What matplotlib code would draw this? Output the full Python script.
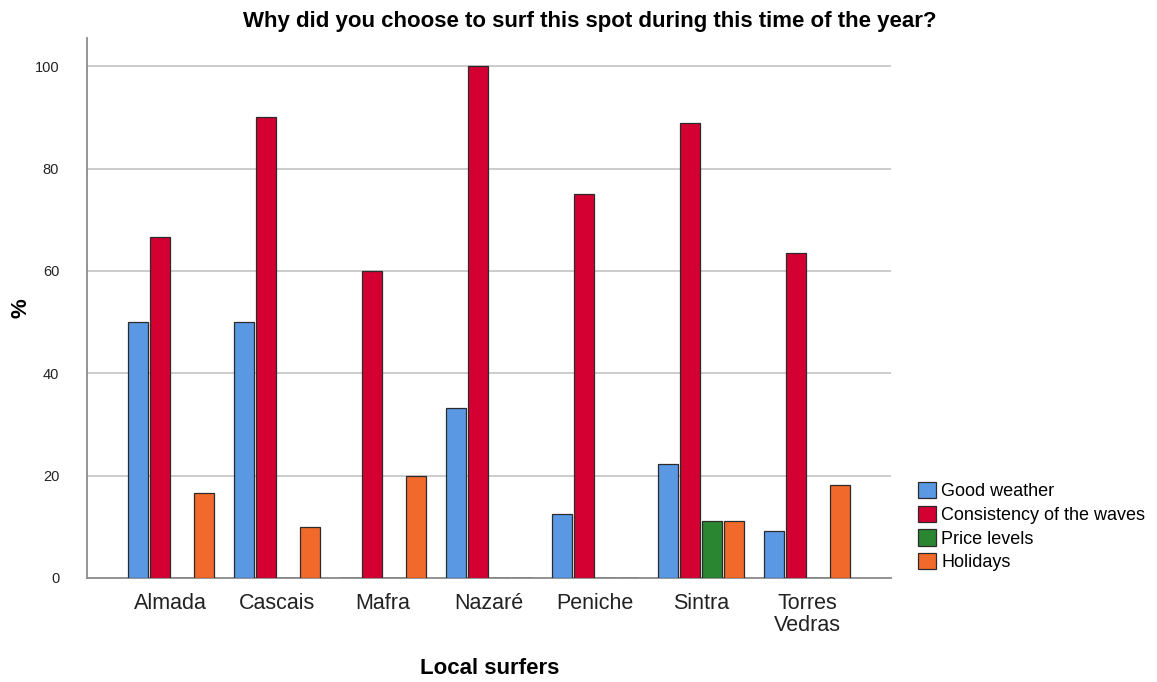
import matplotlib
matplotlib.use("Agg")
import matplotlib.pyplot as plt
import numpy as np
from matplotlib.patches import Patch

plt.rcParams['font.family'] = ['Liberation Sans', 'DejaVu Sans']

places = ["Almada", "Cascais", "Mafra", "Nazaré", "Peniche", "Sintra", "Torres\nVedras"]
series_names = ["Good weather", "Consistency of the waves", "Price levels", "Holidays"]
good_weather = [50.0, 50.0, 0.0, 33.3, 12.5, 22.2, 9.1]
consistency = [66.7, 90.0, 60.0, 100.0, 75.0, 88.9, 63.6]
price_levels = [0.0, 0.0, 0.0, 0.0, 0.0, 11.1, 0.0]
holidays = [16.7, 10.0, 20.0, 0.0, 0.0, 11.1, 18.2]
y_ticks = [0, 20, 40, 60, 80, 100]

colors = ["#5a98e4", "#d50032", "#2a8630", "#f26a2b"]
series = [good_weather, consistency, price_levels, holidays]

fig = plt.figure(figsize=(11.57, 6.82), dpi=100)
ax = fig.add_axes([0.0752, 0.1525, 0.6948, 0.7915])

x = np.arange(len(places))
step = 0.207
width = 0.19
offsets = (np.arange(4) - 1.5) * step
for vals, off, col in zip(series, offsets, colors):
    ax.bar(x + off, vals, width=width, color=col, edgecolor="#2b2b2b",
           linewidth=0.9, zorder=3)

ax.set_xlim(-0.79, len(places) - 1 + 0.79)
ax.set_ylim(0, 105.5)
ax.set_yticks(y_ticks)
ax.set_yticklabels([str(t) for t in y_ticks], fontsize=10.5, color="#222222")
ax.set_xticks(x)
ax.set_xticklabels(places, fontsize=15.5, color="#222222", linespacing=1.05)
ax.tick_params(axis="both", length=0)
ax.tick_params(axis="x", pad=11)
ax.tick_params(axis="y", pad=20)

ax.yaxis.grid(True, color="#c8c8c8", linewidth=1.3, zorder=0)
ax.set_axisbelow(True)
for s in ["top", "right"]:
    ax.spines[s].set_visible(False)
ax.spines["left"].set_color("#8c8c8c")
ax.spines["left"].set_linewidth(1.3)
ax.spines["bottom"].set_color("#8c8c8c")
ax.spines["bottom"].set_linewidth(1.3)

fig.text(590 / 1157, 1 - 21 / 682,
         "Why did you choose to surf this spot during this time of the year?",
         fontsize=16, fontweight="bold", ha="center", va="center")
fig.text(490 / 1157, 1 - 668 / 682, "Local surfers",
         fontsize=16, fontweight="bold", ha="center", va="center")
fig.text(21 / 1157, 1 - 308 / 682, "%", fontsize=16, fontweight="bold",
         ha="center", va="center", rotation=90)

handles = [Patch(facecolor=c, edgecolor="#2b2b2b", linewidth=0.9) for c in colors]
fig.legend(handles, series_names, loc="upper left",
           bbox_to_anchor=(918 / 1157, 1 - 482 / 682),
           frameon=False, fontsize=13, handlelength=1.0, handleheight=1.0,
           handletextpad=0.3, labelspacing=0.3, borderaxespad=0,
           borderpad=0)

fig.savefig("out.png", dpi=100)
